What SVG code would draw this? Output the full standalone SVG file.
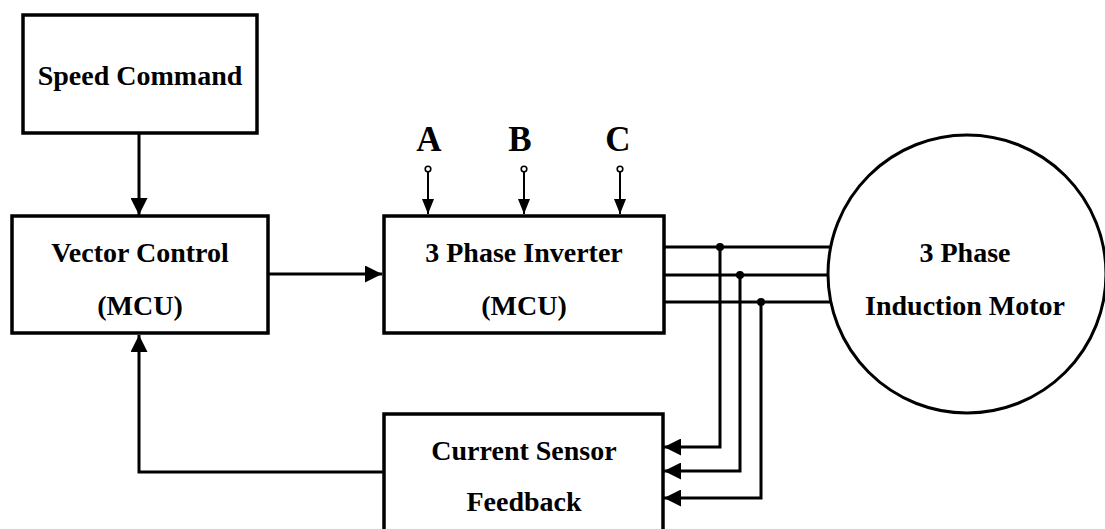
<svg xmlns="http://www.w3.org/2000/svg" width="1105" height="529" viewBox="0 0 1105 529">
<defs>
<style>
.box{fill:#fff;stroke:#000;stroke-width:3.5}
.ln{fill:none;stroke:#000;stroke-width:3}
.thin{fill:none;stroke:#000;stroke-width:2}
.t{font-family:"Liberation Serif","Times New Roman",serif;font-weight:bold;font-size:28px;fill:#000;text-anchor:middle}
.big{font-size:35px}
.dot{fill:#000}
</style>
<marker id="ah" markerUnits="userSpaceOnUse" markerWidth="17" markerHeight="17" refX="17" refY="8.5" orient="auto">
<path d="M0,0 L17,8.5 L0,17 z" fill="#000"/>
</marker>
<marker id="ahs" markerUnits="userSpaceOnUse" markerWidth="15" markerHeight="12" refX="15" refY="6" orient="auto">
<path d="M0,0 L15,6 L0,12 z" fill="#000"/>
</marker>
</defs>
<rect width="1105" height="529" fill="#fff"/>
<g id="connectors">
<line class="ln" x1="139" y1="133" x2="139" y2="215" marker-end="url(#ah)"/>
<line class="ln" x1="268" y1="274" x2="382" y2="274" marker-end="url(#ah)"/>
<polyline class="ln" points="383,472 139,472 139,335" marker-end="url(#ah)"/>
<line class="ln" x1="664" y1="247" x2="840" y2="247"/>
<line class="ln" x1="664" y1="275" x2="840" y2="275"/>
<line class="ln" x1="664" y1="302" x2="840" y2="302"/>
<polyline class="ln" points="720,247 720,447 664,447" marker-end="url(#ah)"/>
<polyline class="ln" points="740,275 740,471 664,471" marker-end="url(#ah)"/>
<polyline class="ln" points="761,302 761,498 664,498" marker-end="url(#ah)"/>
<circle class="dot" cx="720" cy="247" r="4"/>
<circle class="dot" cx="740" cy="275" r="4"/>
<circle class="dot" cx="761" cy="302" r="4"/>
<line class="thin" x1="428" y1="172" x2="428" y2="214" marker-end="url(#ahs)"/>
<line class="thin" x1="524" y1="172" x2="524" y2="214" marker-end="url(#ahs)"/>
<line class="thin" x1="620" y1="172" x2="620" y2="214" marker-end="url(#ahs)"/>
<circle cx="428" cy="169" r="2.8" fill="#fff" stroke="#000" stroke-width="1.6"/>
<circle cx="524" cy="169" r="2.8" fill="#fff" stroke="#000" stroke-width="1.6"/>
<circle cx="620" cy="169" r="2.8" fill="#fff" stroke="#000" stroke-width="1.6"/>
</g>
<g id="speed-command">
<rect class="box" x="23" y="15" width="234" height="118"/>
<text class="t" x="140" y="85">Speed Command</text>
</g>
<g id="vector-control">
<rect class="box" x="12" y="216" width="256" height="117"/>
<text class="t" x="140" y="262">Vector Control</text>
<text class="t" x="140" y="315">(MCU)</text>
</g>
<g id="inverter">
<rect class="box" x="384" y="216" width="280" height="117"/>
<text class="t" x="524" y="262">3 Phase Inverter</text>
<text class="t" x="524" y="315">(MCU)</text>
</g>
<g id="labels">
<text class="t big" x="429" y="151">A</text>
<text class="t big" x="520" y="151">B</text>
<text class="t big" x="618" y="151">C</text>
</g>
<g id="motor">
<circle cx="967" cy="274" r="139" fill="#fff" stroke="#000" stroke-width="3"/>
<text class="t" x="965" y="262">3 Phase</text>
<text class="t" x="965" y="315">Induction Motor</text>
</g>
<g id="current-sensor">
<rect class="box" x="384" y="414" width="279" height="120"/>
<text class="t" x="524" y="460">Current Sensor</text>
<text class="t" x="524" y="511">Feedback</text>
</g>
</svg>
